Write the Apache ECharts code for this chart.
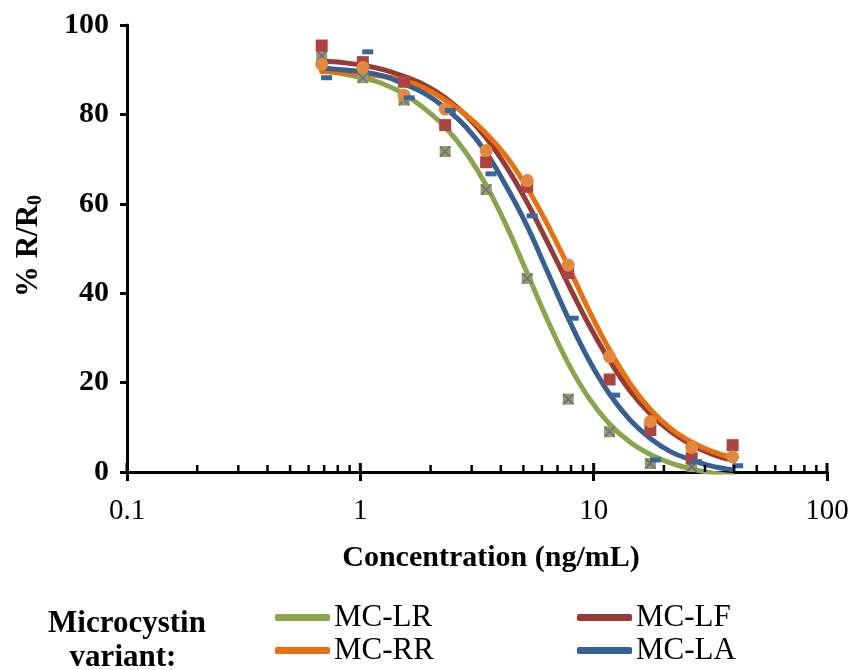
<!DOCTYPE html>
<html>
<head>
<meta charset="utf-8">
<script src="https://cdn.jsdelivr.net/npm/echarts@6/dist/echarts.min.js"></script>
<style>
  html, body { margin: 0; padding: 0; background: #fff; }
  #chart { width: 855px; height: 670px; }
</style>
</head>
<body>
<div id="chart"></div>
<script>
// Dilution series (ng/mL)
const concentrations   = [0.683, 1.025, 1.54, 2.31, 3.46, 5.19, 7.78, 11.7, 17.5, 26.3, 39.4];
const concentrationsLA = [0.717, 1.076, 1.62, 2.43, 3.63, 5.45, 8.17, 12.3, 18.4, 27.6, 41.4];

// Measured % R/R0
const pointsLR = [93.1, 88.2, 83.2, 71.7, 63.2, 43.3, 16.3, 9.0, 1.9, 1.2];
const pointsLF = [95.4, 91.7, 87.3, 77.6, 69.3, 63.8, 44.5, 20.7, 9.4, 3.1, 6.0];
const pointsRR = [91.2, 90.5, 84.3, 81.2, 71.9, 65.2, 46.3, 25.8, 11.3, 5.5, 3.4];
const pointsLA = [88.2, 94.0, 83.7, 80.9, 66.7, 57.3, 34.4, 17.2, 2.7, 2.3, 1.4];

// Fitted dose-response curves, sampled at half dilution steps
const curveConc = [0.683, 0.837, 1.025, 1.255, 1.537, 1.882, 2.305, 2.823, 3.457, 4.234, 5.186,
                   6.351, 7.779, 9.527, 11.67, 14.29, 17.50, 21.43, 26.25, 32.15, 39.37];
const fitLR = [89.8, 89.1, 88.2, 86.8, 84.6, 81.3, 77.2, 71.6, 64.2, 55.0, 44.5,
               33.9, 24.3, 16.6, 10.8, 6.7, 3.9, 2.0, 0.7, -0.2, -0.8];
const fitLF = [92.0, 91.6, 91.0, 90.0, 88.5, 86.6, 83.8, 79.9, 74.8, 68.2, 60.3,
               51.3, 42.0, 33.0, 25.0, 18.2, 13.0, 9.0, 6.1, 4.0, 2.6];
const fitRR = [89.6, 89.4, 89.0, 88.5, 87.6, 85.9, 83.2, 80.0, 75.8, 70.5, 63.6,
               55.3, 46.0, 36.3, 27.4, 19.9, 14.0, 9.7, 6.7, 4.6, 3.2];
const fitLA = [90.4, 90.0, 89.5, 88.6, 86.8, 84.7, 81.5, 77.3, 71.5, 63.8, 55.0,
               44.7, 34.4, 25.1, 17.5, 11.7, 7.5, 4.5, 2.7, 1.3, 0.5];

// Axis ticks
const xTickLabels = ['0.1', '1', '10', '100'];
const xMajorTicks = [0.1, 1, 10, 100];
const xMinorTicks = [0.2, 0.3, 0.4, 0.5, 0.6, 0.7, 0.8, 0.9,
                     2, 3, 4, 5, 6, 7, 8, 9,
                     20, 30, 40, 50, 60, 70, 80, 90];

const seriesNames = ['MC-LR', 'MC-LF', 'MC-RR', 'MC-LA'];
const lineColors  = ['#8aa64c', '#963a38', '#e8700e', '#365f93'];

const SERIF = '"Liberation Serif", "Times New Roman", serif';

function pairs(xs, ys) { return ys.map((y, i) => [xs[i], y]); }

function curve(name, color, ys) {
  return {
    name: name, type: 'line', data: pairs(curveConc, ys),
    smooth: 0.4, showSymbol: false, symbol: 'none',
    itemStyle: { color: color },
    lineStyle: { color: color, width: 5, cap: 'round' },
    z: 2, silent: true
  };
}

function markers(name, xs, ys, symbol, size, style) {
  return {
    name: name, type: 'scatter', data: pairs(xs, ys),
    symbol: symbol, symbolSize: size,
    itemStyle: Object.assign({ opacity: 1 }, style), z: 3, silent: true
  };
}

const chart = echarts.init(document.getElementById('chart'), null, { renderer: 'canvas' });

const legendSpots = [
  { left: 275, top: 602 }, { left: 577, top: 602 },
  { left: 275, top: 635 }, { left: 577, top: 635 }
];

chart.setOption({
  animation: false,
  backgroundColor: '#ffffff',
  grid: { left: 127, right: 28, top: 25, bottom: 198, containLabel: false },
  xAxis: {
    type: 'log', logBase: 10, min: 0.1, max: 100,
    axisLine: { show: true, lineStyle: { color: '#000', width: 3 } },
    axisTick: { show: true, length: 9, lineStyle: { color: '#000', width: 3 } },
    axisLabel: {
      margin: 25, color: '#000', fontFamily: SERIF, fontSize: 29,
      formatter: v => xTickLabels[Math.round(Math.log10(v)) + 1]
    },
    splitLine: { show: false }
  },
  yAxis: {
    type: 'value', min: 0, max: 100, interval: 20,
    axisLine: { show: true, lineStyle: { color: '#000', width: 3 } },
    axisTick: { show: true, length: 7, lineStyle: { color: '#000', width: 3 } },
    axisLabel: { margin: 18, color: '#000', fontFamily: SERIF, fontSize: 30, fontWeight: 'bold' },
    splitLine: { show: false }
  },
  legend: seriesNames.map((n, i) => ({
    data: [n], left: legendSpots[i].left, top: legendSpots[i].top, padding: 0,
    icon: 'roundRect', itemWidth: 55, itemHeight: 7, itemGap: 0,
    textStyle: { fontFamily: SERIF, fontSize: 31, color: '#000', padding: [0, 0, 0, -1] },
    selectedMode: false
  })),
  graphic: [
    { type: 'text', x: 491, y: 558, silent: true,
      style: { text: 'Concentration (ng/mL)', fontFamily: SERIF, fontSize: 30, fontWeight: 'bold',
               fill: '#000', align: 'center', verticalAlign: 'middle' } },
    { type: 'text', x: 29, y: 246, rotation: Math.PI / 2, silent: true,
      style: { text: '{a|% R/R}{b|0}', fill: '#000', align: 'center', verticalAlign: 'middle',
               rich: {
                 a: { fontFamily: SERIF, fontSize: 31, fontWeight: 'bold', fill: '#000' },
                 b: { fontFamily: SERIF, fontSize: 20, fontWeight: 'bold', fill: '#000', padding: [13, 0, 0, 0] }
               } } },
    { type: 'text', x: 127, y: 624, silent: true,
      style: { text: 'Microcystin', fontFamily: SERIF, fontSize: 31, fontWeight: 'bold',
               fill: '#000', align: 'center', verticalAlign: 'middle' } },
    { type: 'text', x: 123, y: 658, silent: true,
      style: { text: 'variant:', fontFamily: SERIF, fontSize: 31, fontWeight: 'bold',
               fill: '#000', align: 'center', verticalAlign: 'middle' } }
  ],
  series: [
    curve('MC-LR', lineColors[0], fitLR),
    curve('MC-LF', lineColors[1], fitLF),
    curve('MC-RR', lineColors[2], fitRR),
    curve('MC-LA', lineColors[3], fitLA),
    // measured points
    markers('LR data', concentrations, pointsLR, 'rect', 11, { color: '#8aa64f' }),
    markers('LR data x', concentrations, pointsLR, 'path://M0,0L10,10M10,0L0,10', 10,
            { color: 'none', borderColor: '#7d5fa0', borderWidth: 1.6 }),
    markers('LF data', concentrations, pointsLF, 'rect', 12, { color: '#ad4341' }),
    markers('RR data', concentrations, pointsRR, 'circle', 13, { color: '#e3883f' }),
    markers('LA data', concentrationsLA, pointsLA, 'rect', [11, 5], { color: '#36679f' }),
    // inner tick marks along the log axis
    { name: 'minor ticks', type: 'scatter', data: xMinorTicks.map(v => [v, 0]),
      symbol: 'rect', symbolSize: [2.5, 7], symbolOffset: [0, -3.5],
      itemStyle: { color: '#000', opacity: 1 }, z: 5, silent: true, clip: false },
    { name: 'major ticks', type: 'scatter', data: xMajorTicks.map(v => [v, 0]),
      symbol: 'rect', symbolSize: [3, 9], symbolOffset: [0, -4.5],
      itemStyle: { color: '#000', opacity: 1 }, z: 5, silent: true, clip: false }
  ]
});
</script>
</body>
</html>
